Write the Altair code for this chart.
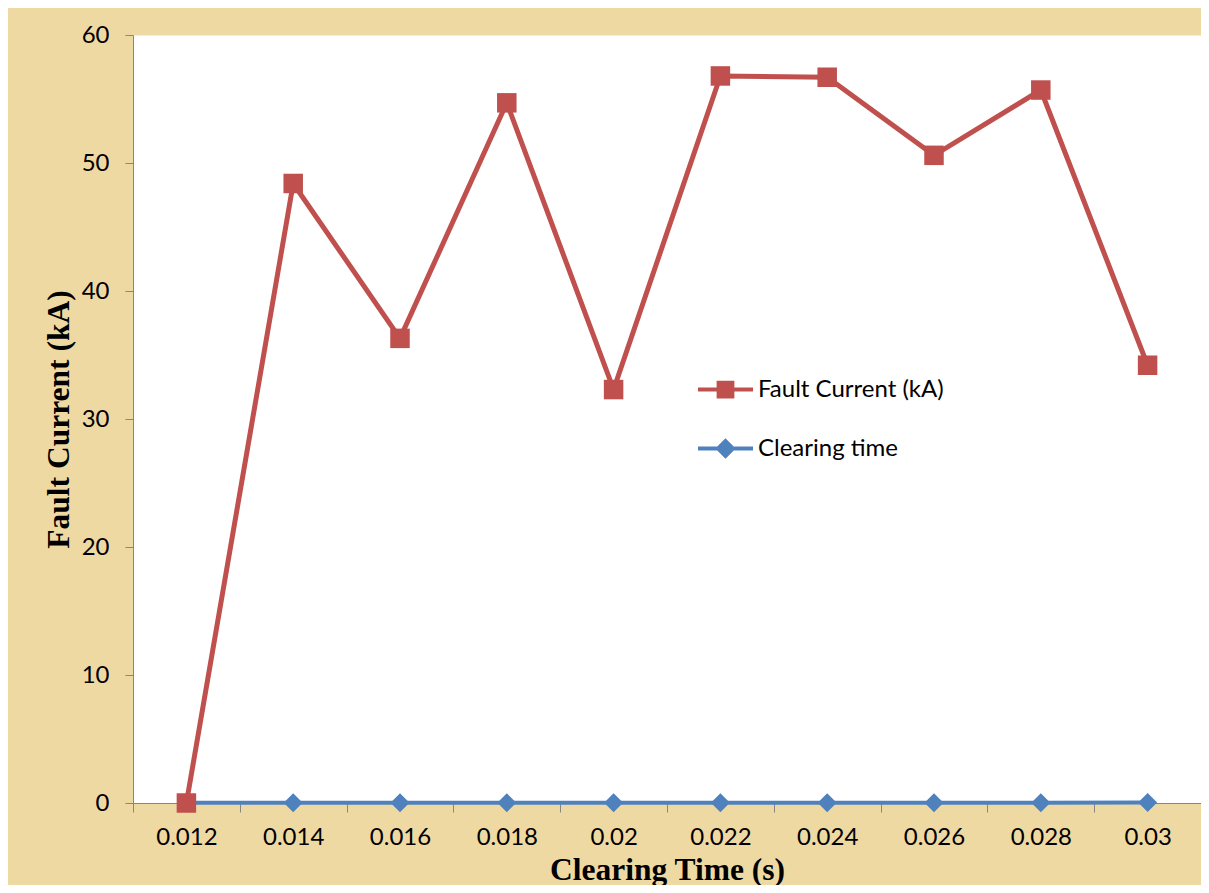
import altair as alt
import pandas as pd

x_labels = ["0.012", "0.014", "0.016", "0.018", "0.02", "0.022", "0.024", "0.026", "0.028", "0.03"]
fault_current = [0, 48.4, 36.3, 54.7, 32.3, 56.8, 56.7, 50.6, 55.7, 34.2]
clearing_time = [0.012, 0.014, 0.016, 0.018, 0.02, 0.022, 0.024, 0.026, 0.028, 0.03]
series_names = ["Fault Current (kA)", "Clearing time"]
series_colors = ["#C0504D", "#4F81BD"]

rows = []
for t, v in zip(x_labels, fault_current):
    rows.append({"t": t, "v": v, "series": series_names[0]})
for t, v in zip(x_labels, clearing_time):
    rows.append({"t": t, "v": v, "series": series_names[1]})
df = pd.DataFrame(rows)

FONT = "Lato"
GRAY = "#868686"
LABEL_SIZE = 24

x_enc = alt.X(
    "t:O",
    sort=x_labels,
    scale=alt.Scale(type="band", paddingInner=0, paddingOuter=0, domain=x_labels),
    axis=alt.Axis(
        title="Clearing Time (s)",
        tickBand="extent",
        labelAngle=0,
        labelFont=FONT,
        labelFontSize=LABEL_SIZE,
        labelColor="black",
        labelPadding=13,
        tickSize=9,
        tickColor=GRAY,
        domainColor=GRAY,
        titleFont="Liberation Serif",
        titleFontSize=31.5,
        titleFontWeight="bold",
        titleColor="black",
        titleBaseline="alphabetic",
        titleY=76,
        grid=False,
    ),
)
y_enc = alt.Y(
    "v:Q",
    scale=alt.Scale(domain=[0, 60], nice=False, zero=True),
    axis=alt.Axis(
        title="Fault Current (kA)",
        values=[0, 10, 20, 30, 40, 50, 60],
        labelFont=FONT,
        labelFontSize=LABEL_SIZE,
        labelColor="black",
        labelPadding=16,
        tickSize=8,
        tickColor=GRAY,
        domainColor=GRAY,
        titleFont="Liberation Serif",
        titleFontSize=31.5,
        titleFontWeight="bold",
        titleColor="black",
        titleBaseline="alphabetic",
        titleX=-65,
        grid=False,
    ),
)

base = alt.Chart(df)

blue = base.transform_filter(alt.datum.series == series_names[1])
red = base.transform_filter(alt.datum.series == series_names[0])

blue_line = blue.mark_line(color=series_colors[1], strokeWidth=4).encode(x=x_enc, y=y_enc)
blue_pts = blue.mark_point(shape="diamond", filled=True, size=361, color=series_colors[1], opacity=1).encode(x=x_enc, y=y_enc)
red_line = red.mark_line(color=series_colors[0], strokeWidth=5).encode(x=x_enc, y=y_enc)
red_pts = red.mark_point(shape="square", filled=True, size=380, color=series_colors[0], opacity=1).encode(x=x_enc, y=y_enc)

legend_paths = [
    "M-1,0H1M-0.25,-0.25H0.25V0.25H-0.25Z",
    "M-1,0H1M0,-0.27L0.27,0L0,0.27L-0.27,0Z",
]
leg = alt.Legend(
    title=None,
    orient="none",
    legendX=563,
    legendY=325,
    padding=0,
    symbolSize=3025,
    symbolStrokeWidth=4,
    labelFont=FONT,
    labelFontSize=LABEL_SIZE,
    labelColor="black",
    labelOffset=3,
    labelLimit=400,
    rowPadding=14,
    symbolOpacity=1,
)
legend_layer = base.transform_filter("false").mark_point(filled=True, opacity=1).encode(
    x=x_enc,
    y=y_enc,
    color=alt.Color("series:N", scale=alt.Scale(domain=series_names, range=series_colors), legend=leg),
    stroke=alt.Stroke("series:N", scale=alt.Scale(domain=series_names, range=series_colors), legend=leg),
    shape=alt.Shape("series:N", scale=alt.Scale(domain=series_names, range=legend_paths), legend=leg),
)

chart = alt.layer(blue_line, blue_pts, red_line, red_pts, legend_layer).properties(
    width=1068,
    height=768,
    padding={"left": 125, "top": 27, "right": 0, "bottom": 82},
    autosize=alt.AutoSizeParams(type="none"),
    background="#EFD9A3",
).configure_view(fill="white", strokeOpacity=0)

chart.save("out.html", embed_options={"renderer": "svg", "actions": False})
